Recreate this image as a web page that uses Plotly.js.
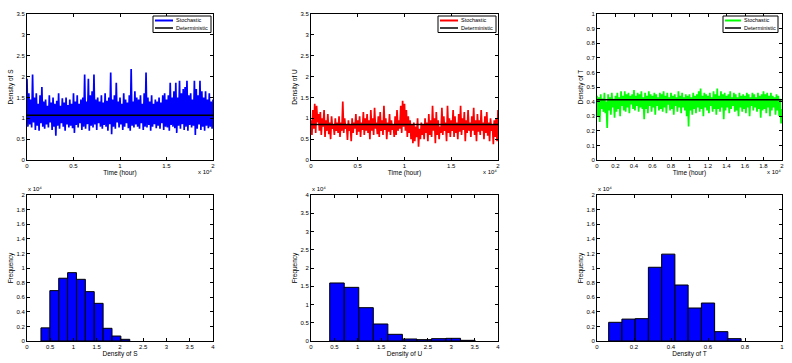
<!DOCTYPE html>
<html>
<head>
<meta charset="utf-8">
<script src="https://cdn.plot.ly/plotly-3.0.1.min.js"></script>
<style>html,body{margin:0;padding:0;background:#fff;}#chart{width:792px;height:363px;}</style>
</head>
<body>
<div id="chart"></div>
<script>
// ---------- DATA (time in units of 10^4 hours, frequency in units of 10^4) ----------
const timeStart = 0, timeEnd = 2;

const sStochastic = [
1.95,0.8,1.6,0.85,1.45,0.78,2.05,0.9,1.5,0.72,
1.6,0.82,1.35,0.7,1.55,0.88,1.75,0.8,1.4,0.75,
1.45,0.85,1.3,0.78,1.55,0.9,1.38,0.72,1.5,0.8,
1.35,0.58,1.42,0.82,1.6,0.75,1.3,0.88,1.48,0.8,
1.38,0.7,1.5,0.85,1.32,0.78,1.45,0.82,1.35,0.76,
1.6,0.65,1.4,0.84,1.55,0.78,1.35,0.88,1.45,0.72,
1.5,0.8,2.05,0.75,1.4,0.86,1.95,0.7,1.55,0.82,
1.65,0.78,2.05,0.85,1.45,0.72,1.5,0.88,1.4,0.8,
1.55,0.75,1.38,0.84,1.6,0.8,1.42,0.7,1.5,0.86,
2.1,0.62,1.45,0.8,1.55,0.75,1.85,0.9,1.4,0.78,
1.5,0.85,1.35,0.72,1.6,0.8,1.45,0.88,1.38,0.76,
1.55,0.7,2.18,0.82,1.4,0.78,1.65,0.85,1.5,0.8,
1.45,0.75,1.55,0.88,1.35,0.72,1.6,0.8,2.1,0.78,
1.5,0.84,1.4,0.7,1.55,0.8,1.35,0.86,1.45,0.76,
1.4,0.82,1.5,0.75,1.38,0.88,1.55,0.72,1.6,0.8,
1.45,0.78,1.55,0.7,1.85,0.84,1.5,0.8,1.65,0.76,
1.85,0.65,1.5,0.82,1.9,0.75,1.6,0.86,1.7,0.72,
1.75,0.8,1.9,0.7,1.55,0.84,1.6,0.78,1.45,0.82,
1.9,0.6,1.7,0.75,1.55,0.85,1.9,0.72,1.65,0.8,
1.5,0.7,1.65,0.82,1.45,0.76,1.6,0.8,1.4,0.75,1.45];

const uStochastic = [
0.95,0.6,1.2,0.75,1.35,0.65,1.3,0.9,1.1,0.7,
1.15,0.6,1.0,0.8,1.2,0.55,0.95,0.7,1.1,0.62,
0.9,0.5,1.05,0.75,0.85,0.6,1.0,0.7,0.9,0.65,
1.05,0.55,0.9,0.7,1.4,0.65,1.0,0.75,0.85,0.48,
0.95,0.7,0.85,0.45,1.0,0.65,0.9,0.75,1.1,0.6,
0.95,0.68,1.05,0.55,0.9,0.72,1.15,0.6,1.0,0.7,
1.1,0.65,0.95,0.5,1.2,0.7,1.0,0.6,1.25,0.75,
0.9,0.62,1.05,0.55,1.15,0.7,0.95,0.6,1.3,0.72,
1.0,0.5,0.9,0.68,1.1,0.6,0.95,0.72,0.85,0.55,
1.05,0.6,1.2,0.7,0.95,0.75,1.3,0.65,1.42,0.8,
1.35,0.7,1.2,0.55,1.05,0.65,0.95,0.5,0.85,0.4,
0.9,0.45,0.8,0.55,1.0,0.32,0.75,0.5,0.9,0.6,
0.85,0.5,1.0,0.65,0.9,0.45,1.1,0.6,0.95,0.55,
1.3,0.7,1.0,0.4,1.15,0.6,0.95,0.5,0.8,0.65,
1.25,0.6,1.05,0.7,0.9,0.45,1.3,0.65,1.0,0.55,
0.95,0.7,1.2,0.55,1.05,0.65,0.9,0.5,1.1,0.68,
1.3,0.6,1.0,0.72,1.15,0.45,0.95,0.65,1.2,0.7,
0.9,0.55,1.05,0.7,1.25,0.6,0.95,0.45,1.1,0.68,
0.95,0.6,1.2,0.7,0.9,0.5,1.05,0.65,1.15,0.58,
0.9,0.45,1.0,0.7,0.85,0.38,0.95,0.55,1.0,0.45,1.2];

const tStochastic = [
0.44,0.3,0.43,0.26,0.45,0.35,0.42,0.33,0.46,0.32,
0.4,0.22,0.45,0.34,0.43,0.31,0.46,0.36,0.42,0.29,
0.44,0.33,0.46,0.35,0.43,0.3,0.47,0.37,0.44,0.34,
0.47,0.33,0.45,0.36,0.46,0.32,0.44,0.38,0.45,0.35,
0.48,0.34,0.44,0.37,0.46,0.33,0.45,0.36,0.47,0.35,
0.43,0.28,0.46,0.35,0.44,0.32,0.47,0.37,0.45,0.33,
0.44,0.36,0.46,0.31,0.45,0.37,0.43,0.34,0.46,0.35,
0.45,0.33,0.47,0.36,0.44,0.32,0.46,0.38,0.43,0.34,
0.46,0.35,0.44,0.31,0.45,0.37,0.43,0.33,0.47,0.36,
0.44,0.32,0.46,0.36,0.43,0.34,0.45,0.3,0.44,0.23,
0.45,0.34,0.43,0.31,0.46,0.35,0.44,0.32,0.45,0.36,
0.47,0.33,0.49,0.35,0.44,0.3,0.46,0.36,0.45,0.34,
0.44,0.32,0.46,0.37,0.43,0.33,0.47,0.35,0.45,0.31,
0.49,0.35,0.44,0.33,0.47,0.36,0.45,0.28,0.46,0.34,
0.44,0.36,0.45,0.32,0.47,0.35,0.43,0.37,0.46,0.33,
0.45,0.34,0.43,0.3,0.46,0.36,0.44,0.33,0.45,0.35,
0.44,0.32,0.46,0.36,0.45,0.3,0.43,0.37,0.46,0.34,
0.45,0.36,0.43,0.33,0.46,0.35,0.44,0.29,0.45,0.34,
0.47,0.35,0.45,0.32,0.46,0.36,0.44,0.3,0.46,0.34,
0.44,0.36,0.43,0.31,0.45,0.34,0.44,0.3,0.42,0.25,0.35];

const sDeterministic = 1.07;
const uDeterministic = 0.85;
const tDeterministic = 0.413;

// Histograms: left bin edges, bin width, frequencies (x 10^4)
const sBinStart = 0.30, sBinWidth = 0.191;
const sFreq = [0.18,0.69,0.86,0.936,0.845,0.676,0.516,0.174,0.068,0.023];
const uBinStart = 0.40, uBinWidth = 0.311;
const uFreq = [1.59,1.47,0.913,0.466,0.183,0.055,0.037,0.064,0.073,0.018];
const tBinStart = 0.063, tBinWidth = 0.0716;
const tFreq = [0.256,0.30,0.306,1.01,1.19,0.767,0.452,0.52,0.128,0.032];

const legendLabels = ['Stochastic','Deterministic'];

// ---------- BUILD ----------
function timeGrid(n){ const a=[]; for(let i=0;i<n;i++) a.push(timeStart+(timeEnd-timeStart)*i/(n-1)); return a; }
function binLefts(start,w,n){ const a=[]; for(let i=0;i<n;i++) a.push(start+w*i); return a; }

const BLUE='#0000ff', RED='#ff0000', GREEN='#00ff00';
const traces = [];
function addSeries(vals, det, color, xa, ya){
  traces.push({type:'scatter',mode:'lines',x:timeGrid(vals.length),y:vals,xaxis:xa,yaxis:ya,
    name:legendLabels[0],showlegend:false,line:{color:color,width:1.7}});
  traces.push({type:'scatter',mode:'lines',x:[timeStart,timeEnd],y:[det,det],xaxis:xa,yaxis:ya,
    name:legendLabels[1],showlegend:false,line:{color:'#000',width:1.5}});
}
addSeries(sStochastic,sDeterministic,BLUE,'x','y');
addSeries(uStochastic,uDeterministic,RED,'x2','y2');
addSeries(tStochastic,tDeterministic,GREEN,'x3','y3');

function addHist(start,w,freq,xa,ya){
  traces.push({type:'bar',x:binLefts(start,w,freq.length),y:freq,width:w,offset:0,xaxis:xa,yaxis:ya,
    showlegend:false,marker:{color:BLUE,line:{color:'#000',width:1}}});
}
addHist(sBinStart,sBinWidth,sFreq,'x4','y4');
addHist(uBinStart,uBinWidth,uFreq,'x5','y5');
addHist(tBinStart,tBinWidth,tFreq,'x6','y6');

const W=792,H=363;
const colX=[[27,213],[311,498],[597,782]];
const rowY=[[14,160],[195,341]];
const dx=c=>[colX[c][0]/W,colX[c][1]/W];
const dy=r=>[(H-rowY[r][1])/H,(H-rowY[r][0])/H];
const px=v=>v/W, py=v=>(H-v)/H;

const FAM='Liberation Sans, Arial, sans-serif';
const tickFont={family:FAM,size:6,color:'#000'};
const titleFont={family:FAM,size:6.5,color:'#000'};
function ax(domain,anchor,range,dtick,title,standoff){
  return {domain:domain,anchor:anchor,range:range,dtick:dtick,tick0:0,showgrid:false,zeroline:false,
    showline:true,linecolor:'#000',linewidth:1,mirror:'ticks',ticks:'inside',ticklen:3,tickcolor:'#000',
    tickfont:tickFont,automargin:false,fixedrange:true,
    title:{text:title,font:titleFont,standoff:standoff}};
}

const layout = {
  width:W,height:H,margin:{l:0,r:0,t:0,b:0},paper_bgcolor:'#fff',plot_bgcolor:'#fff',
  showlegend:false,bargap:0,
  xaxis: ax(dx(0),'y',[0,2],0.5,'Time (hour)',2),
  yaxis: ax(dy(0),'x',[0,3.5],0.5,'Density of S',2),
  xaxis2:ax(dx(1),'y2',[0,2],0.5,'Time (hour)',2),
  yaxis2:ax(dy(0),'x2',[0,3.5],0.5,'Density of U',2),
  xaxis3:ax(dx(2),'y3',[0,2],0.2,'Time (hour)',2),
  yaxis3:ax(dy(0),'x3',[0,1],0.1,'Density of T',2),
  xaxis4:ax(dx(0),'y4',[0,4],0.5,'Density of S',2),
  yaxis4:ax(dy(1),'x4',[0,2],0.2,'Frequency',2),
  xaxis5:ax(dx(1),'y5',[0,4],0.5,'Density of U',2),
  yaxis5:ax(dy(1),'x5',[0,4],0.5,'Frequency',2),
  xaxis6:ax(dx(2),'y6',[0,1],0.2,'Density of T',2),
  yaxis6:ax(dy(1),'x6',[0,2],0.2,'Frequency',2),
  annotations:[], shapes:[]
};

// Compact MATLAB-style legends (drawn as layout decorations)
function addLegend(xr, color, boxW, lineLen){
  const top=16, bot=32.5, xl=xr-boxW;
  layout.shapes.push({type:'rect',xref:'paper',yref:'paper',x0:px(xl),x1:px(xr),y0:py(bot),y1:py(top),
    line:{color:'#000',width:1},fillcolor:'#fff',layer:'above'});
  const rows=[top+4.5, top+12];
  const cols=[color,'#000'];
  rows.forEach((yy,i)=>{
    layout.shapes.push({type:'line',xref:'paper',yref:'paper',x0:px(xl+2),x1:px(xl+2+lineLen),y0:py(yy),y1:py(yy),
      line:{color:cols[i],width:i===0?2:1.5},layer:'above'});
    layout.annotations.push({xref:'paper',yref:'paper',x:px(xl+lineLen+4),y:py(yy),xanchor:'left',yanchor:'middle',
      text:legendLabels[i],showarrow:false,font:{family:FAM,size:5.5,color:'#000'},borderpad:0});
  });
}
addLegend(211,BLUE,58,18);
addLegend(496,RED,58,18);
addLegend(778,GREEN,55,16);

const expFont={family:FAM,size:6,color:'#000'};
[0,1,2].forEach(c=>{
  layout.annotations.push({xref:'paper',yref:'paper',x:px(colX[c][1]),y:py(168),xanchor:'right',yanchor:'top',
    text:'x 10\u2074',showarrow:false,font:expFont,borderpad:0});
  layout.annotations.push({xref:'paper',yref:'paper',x:px(colX[c][0]),y:py(193),xanchor:'left',yanchor:'bottom',
    text:'x 10\u2074',showarrow:false,font:expFont,borderpad:0});
});

Plotly.newPlot('chart',traces,layout,{staticPlot:true,displayModeBar:false});
</script>
</body>
</html>
